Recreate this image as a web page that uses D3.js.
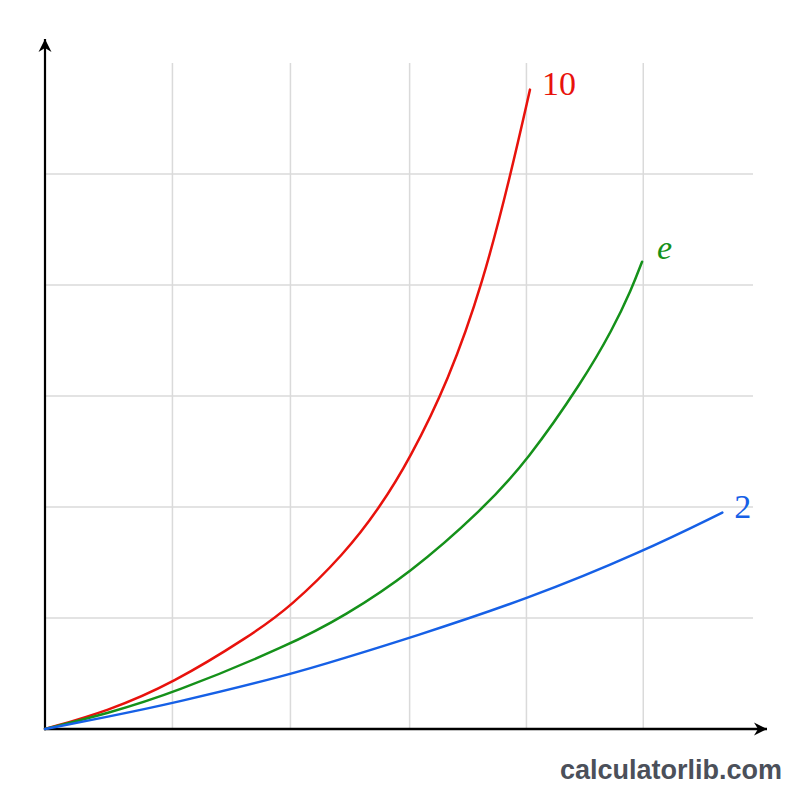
<!DOCTYPE html>
<html>
<head>
<meta charset="utf-8">
<script src="https://cdn.jsdelivr.net/npm/d3@7"></script>
<style>
  html, body { margin: 0; padding: 0; background: #ffffff; }
  svg { display: block; }
</style>
</head>
<body>
<div id="chart"></div>
<script>
// curves, in grid units (x: 0..6, y: 0..6)
var redX   = [0, 0.53, 1.08, 1.74, 2.08, 2.54, 2.84, 3.09, 3.42, 3.71, 3.95, 4.11];
var redY   = [0, 0.16, 0.41, 0.84, 1.1, 1.58, 2.0, 2.43, 3.14, 4.01, 5.01, 5.76];
var greenX = [0, 0.53, 1.08, 2.08, 2.54, 3.09, 3.71, 4.09, 4.56, 4.81, 4.97, 5.06];
var greenY = [0, 0.14, 0.32, 0.76, 1.02, 1.4, 1.98, 2.42, 3.14, 3.6, 3.96, 4.21];
var blueX  = [0, 0.53, 1.08, 2.08, 2.54, 3.09, 4.09, 5.07, 5.74];
var blueY  = [0, 0.11, 0.23, 0.49, 0.64, 0.82, 1.17, 1.6, 1.95];

var seriesNames = ["10", "e", "2"];
var gridX = [1.08, 2.08, 3.09, 4.08, 5.07];
var gridY = [1, 2, 3, 4, 5];

var width = 800, height = 800;

var svg = d3.select("#chart")
    .append("svg")
    .attr("width", width)
    .attr("height", height);

var x = d3.scaleLinear().domain([0, 6]).range([45, 753]);
var y = d3.scaleLinear().domain([0, 6]).range([729, 63]);

// grid
svg.append("g").selectAll("line")
    .data(gridX)
    .enter().append("line")
    .attr("x1", function(d){ return x(d); })
    .attr("x2", function(d){ return x(d); })
    .attr("y1", y(0))
    .attr("y2", y(6))
    .style("stroke", "#dadada")
    .style("stroke-width", 1.5);

svg.append("g").selectAll("line")
    .data(gridY)
    .enter().append("line")
    .attr("x1", x(0))
    .attr("x2", x(6))
    .attr("y1", function(d){ return y(d); })
    .attr("y2", function(d){ return y(d); })
    .style("stroke", "#dadada")
    .style("stroke-width", 1.5);

// arrow heads
var defs = svg.append("defs");
defs.append("marker")
    .attr("id", "arrow")
    .attr("viewBox", "-14 -8 16 16")
    .attr("refX", 0)
    .attr("refY", 0)
    .attr("markerWidth", 16)
    .attr("markerHeight", 16)
    .attr("markerUnits", "userSpaceOnUse")
    .attr("orient", "auto")
    .append("path")
    .attr("d", "M0,0 L-13,-6.5 L-9,0 L-13,6.5 Z")
    .style("fill", "#000");

// axes
svg.append("line")
    .attr("x1", x(0)).attr("y1", y(0))
    .attr("x2", x(0)).attr("y2", 39)
    .style("stroke", "#000")
    .style("stroke-width", 2.2)
    .attr("marker-end", "url(#arrow)");

svg.append("line")
    .attr("x1", x(0) - 1).attr("y1", y(0))
    .attr("x2", 767).attr("y2", y(0))
    .style("stroke", "#000")
    .style("stroke-width", 2.6)
    .attr("marker-end", "url(#arrow)");

// curves
var series = [
  { name: seriesNames[0], xs: redX,   ys: redY,   color: "#e8120c", italic: false },
  { name: seriesNames[1], xs: greenX, ys: greenY, color: "#15911a", italic: true },
  { name: seriesNames[2], xs: blueX,  ys: blueY,  color: "#1660e6", italic: false }
];

var line = d3.line()
    .x(function(d){ return x(d[0]); })
    .y(function(d){ return y(d[1]); })
    .curve(d3.curveBasis);

series.forEach(function(s){
  var pts = d3.zip(s.xs, s.ys);
  svg.append("path")
      .datum(pts)
      .attr("d", line)
      .style("fill", "none")
      .style("stroke", s.color)
      .style("stroke-width", 2.5)
      .style("stroke-linecap", "round");

  var last = pts[pts.length - 1];
  svg.append("text")
      .attr("x", x(last[0]) + (s.italic ? 15 : 12))
      .attr("y", y(last[1]) + (s.italic ? -3 : 5))
      .style("font-family", "'Liberation Serif', 'Times New Roman', serif")
      .style("font-size", "34px")
      .style("font-style", s.italic ? "italic" : "normal")
      .style("fill", s.color)
      .text(s.name);
});

// watermark
svg.append("text")
    .attr("x", 782)
    .attr("y", 779)
    .attr("text-anchor", "end")
    .style("font-family", "'Liberation Sans', Arial, sans-serif")
    .style("font-weight", "bold")
    .style("font-size", "27px")
    .style("fill", "#4b505a")
    .text("calculatorlib.com");
</script>
</body>
</html>
